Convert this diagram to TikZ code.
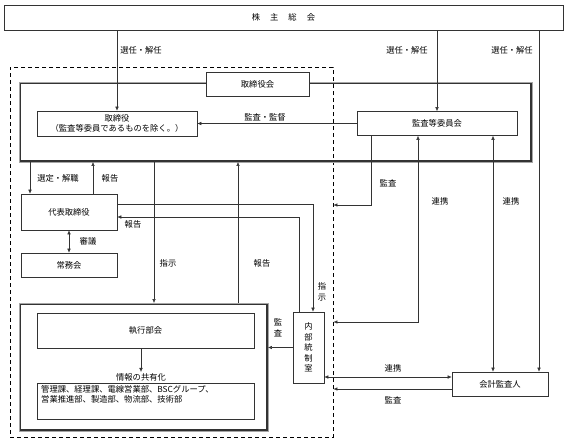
\documentclass[tikz,border=0pt]{standalone}
\usepackage{fontspec}
\setmainfont{Noto Sans CJK JP}
\usetikzlibrary{positioning,calc,arrows.meta}

\begin{document}
\begin{tikzpicture}[
    x=1pt, y=-1pt,
    every node/.style={font=\fontsize{8.3}{10.5}\selectfont, inner sep=1pt},
    box/.style={rectangle, draw=black!80, line width=0.6pt, fill=white, align=center},
    dbox/.style={rectangle, draw=black!80, line width=1.9pt},
    dcore/.style={draw=black!35, line width=0.8pt},
    grpbox/.style={rectangle, draw=black, line width=0.8pt, dash pattern=on 4pt off 3pt},
    arrow/.style={-{Latex[length=4pt,width=3.5pt]}, draw=black!80, line width=0.5pt},
    both/.style={{Latex[length=4pt,width=3.5pt]}-{Latex[length=4pt,width=3.5pt]}, draw=black!80, line width=0.5pt},
    vtext/.style={align=center}
]
    \useasboundingbox (0,0) rectangle (567,442);

    % boxes
    \node[grpbox, minimum width=323pt, minimum height=370pt] (grp) at (171.5,252) {};
    \node[box, minimum width=559pt, minimum height=25pt] (soukai) at (283.5,17.5) {株\hspace{10pt}主\hspace{10pt}総\hspace{10pt}会};
    \node[dbox, minimum width=511pt, minimum height=78pt] (torikai) at (275.5,122) {};
    \draw[dcore] (torikai.north west) rectangle (torikai.south east);
    \node[box, minimum width=103pt, minimum height=24pt] (torikai label) at (257.5,84) {取締役会};
    \node[box, minimum width=160pt, minimum height=25pt] (tori) at (117,123.5) {取締役\\（監査等委員であるものを除く。）};
    \node[box, minimum width=160pt, minimum height=24pt] (iinkai) at (437,123.5) {監査等委員会};
    \node[box, minimum width=96pt, minimum height=36pt] (daihyo) at (69,212) {代表取締役};
    \node[box, minimum width=96pt, minimum height=24pt] (jomu) at (69,265) {常務会};
    \node[dbox, minimum width=247pt, minimum height=126pt] (shikko grp) at (143.5,367) {};
    \draw[dcore] (shikko grp.north west) rectangle (shikko grp.south east);
    \node[box, minimum width=217pt, minimum height=35pt] (shikko) at (145.5,330.5) {執行部会};
    \node (kyoyu) at (141,377) {情報の共有化};
    \node[box, minimum width=217pt, minimum height=36pt] (bumon) at (145.5,401) {};
    \node[anchor=north west, align=left] (bumon text) at (40,384) {管理課、経理課、電線営業部、BSCグループ、\\営業推進部、製造部、物流部、技術部};
    \node[box, vtext, minimum width=31pt, minimum height=71pt, inner sep=0pt] (naibu) at (308.5,347.5) {内\\部\\統\\制\\室};
    \node[box, minimum width=96pt, minimum height=24pt] (kaikei) at (500,384) {会計監査人};

    % connectors
    \draw[arrow] (soukai.south -| tori.north) -- (tori.north);
    \draw[arrow] (soukai.south -| iinkai.north) -- (iinkai.north);
    \draw[arrow] (539,0 |- soukai.south) -- (539,0 |- kaikei.north);
    \draw[arrow] (iinkai.west) -- (tori.east);
    \draw[arrow] (30,0 |- torikai.south) -- (30,0 |- daihyo.north);
    \draw[arrow] (93,0 |- daihyo.north) -- (93,0 |- torikai.south);
    \draw[both] (daihyo.south) -- (jomu.north);
    \draw[arrow] (154,0 |- torikai.south) -- (154,0 |- shikko grp.north);
    \draw[arrow] (238,0 |- shikko grp.north) -- (238,0 |- torikai.south);
    \draw[arrow] (daihyo.east |- 0,204) -| (313,0 |- naibu.north);
    \draw[arrow] (299,0 |- naibu.north) |- (daihyo.east |- 0,217);
    \draw[arrow] (371,0 |- iinkai.south) |- (grp.east |- 0,205);
    \draw[both] (418,0 |- iinkai.south) |- (grp.east |- 0,322);
    \draw[both] (493,0 |- iinkai.south) -- (493,0 |- kaikei.north);
    \draw[arrow] (naibu.west) -- (naibu.west -| shikko grp.east);
    \draw[both] (naibu.east |- 0,377) -- (kaikei.west |- 0,377);
    \draw[arrow] (kaikei.west |- 0,389) -- (grp.east |- 0,389);
    \draw[arrow] (shikko.south -| kyoyu.north) -- (kyoyu.north);

    % labels
    \node (sen1) at (141,50) {選任・解任};
    \node (sen2) at (407,50) {選任・解任};
    \node (sen3) at (512,50) {選任・解任};
    \node (kantoku) at (265,117) {監査・監督};
    \node (sentei) at (58,178) {選定・解職};
    \node (hok1) at (110,178) {報告};
    \node (shingi) at (88,241) {審議};
    \node (hok2) at (133,224) {報告};
    \node (shiji1) at (168,263) {指示};
    \node (hok3) at (262,263) {報告};
    \node[vtext] (shiji2) at (322,292) {指\\示};
    \node (kansa1) at (388,183) {監査};
    \node (renkei1) at (440,201) {連携};
    \node (renkei2) at (511,201) {連携};
    \node[vtext] (kansa2) at (278,328) {監\\査};
    \node (renkei3) at (393,368) {連携};
    \node (kansa3) at (393,400) {監査};
\end{tikzpicture}
\end{document}
